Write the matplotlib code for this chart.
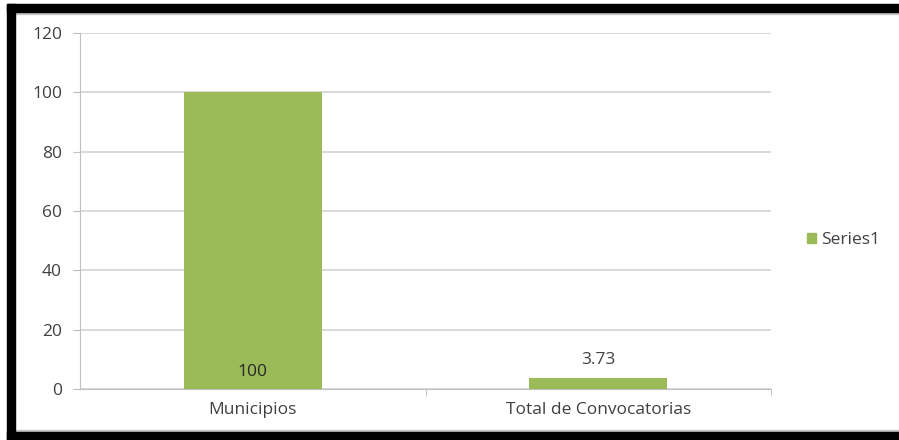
import matplotlib
matplotlib.use("Agg")
from matplotlib import pyplot as plt
from matplotlib.patches import Rectangle, Patch

categories = ["Municipios", "Total de Convocatorias"]
values = [100, 3.73]
value_labels = ["100", "3.73"]
series_name = "Series1"
y_ticks = [0, 20, 40, 60, 80, 100, 120]

GREEN = "#9bbb59"
TEXT = "#404040"
GRID = "#d9d9d9"
FS = 12.5

plt.rcParams["font.family"] = ["Open Sans", "DejaVu Sans"]

fig = plt.figure(figsize=(8.99, 4.40), dpi=100)
W, H = 899, 440
ax = fig.add_axes([80 / W, 1 - 389 / H, (771 - 80) / W, (389 - 33) / H])

x = list(range(len(categories)))
ax.bar(x, values, width=0.4, color=GREEN, zorder=3)

ax.set_xlim(-0.5, len(categories) - 0.5)
ax.set_ylim(0, 120)
ax.set_yticks(y_ticks)
ax.set_yticklabels([str(t) for t in y_ticks], fontsize=FS, color=TEXT)
ax.set_xticks(x)
ax.set_xticklabels(categories, fontsize=FS, color=TEXT)
ax.tick_params(axis="x", length=0, pad=9)
ax.tick_params(axis="y", length=5, color="#bfbfbf", pad=8)
# category boundary ticks
ax.set_xticks([i + 0.5 for i in range(len(categories))], minor=True)
ax.tick_params(axis="x", which="minor", length=5, color="#bfbfbf")

ax.yaxis.grid(True, color=GRID, lw=1.4, zorder=0)
for s in ["top", "right"]:
    ax.spines[s].set_visible(False)
ax.spines["left"].set_color("#bfbfbf")
ax.spines["bottom"].set_color("#bfbfbf")

# data labels: first inside base, second above bar
ax.annotate(value_labels[0], (x[0], 0), xytext=(0, 12), textcoords="offset points",
            ha="center", va="center", fontsize=FS, color="#262626")
ax.annotate(value_labels[1], (x[1], values[1]), xytext=(0, 13), textcoords="offset points",
            ha="center", va="center", fontsize=FS, color=TEXT)

leg = fig.legend(handles=[Patch(color=GREEN, label=series_name)],
                 loc="center left", bbox_to_anchor=(791 / W, 1 - 240 / H),
                 frameon=False, fontsize=FS, handlelength=0.55, handleheight=0.55,
                 handletextpad=0.3)
for t in leg.get_texts():
    t.set_color(TEXT)

# black frame (top, left, bottom) with light grey inner edge
for (x0, y0, w, h) in [(15, 12, 884, 2), (15, 430, 884, 2)]:
    fig.patches.append(Rectangle((x0 / W, 1 - (y0 + h) / H), w / W, h / H,
                                 transform=fig.transFigure, color="#c8c8c8", zorder=9))
for (x0, y0, w, h) in [(7, 4, 892, 8), (7, 4, 8, 436), (7, 432, 892, 8)]:
    fig.patches.append(Rectangle((x0 / W, 1 - (y0 + h) / H), w / W, h / H,
                                 transform=fig.transFigure, color="black", zorder=10))

fig.savefig("out.png", dpi=100)
